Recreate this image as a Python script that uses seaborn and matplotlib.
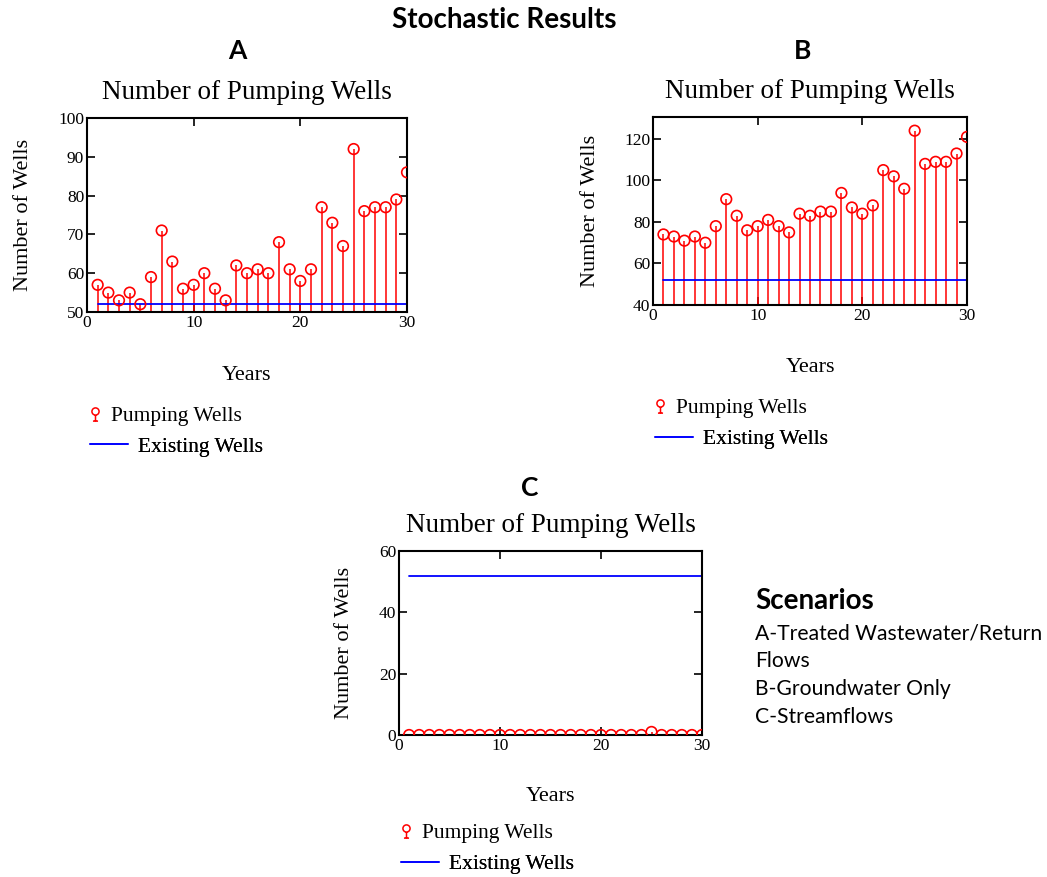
import matplotlib
matplotlib.use("Agg")
import matplotlib.pyplot as plt
from matplotlib.path import Path
from matplotlib.lines import Line2D
import numpy as np
import pandas as pd
import seaborn as sns

# ---- data -------------------------------------------------------------
years = list(range(1, 31))
pumping_a = [57, 55, 53, 55, 52, 59, 71, 63, 56, 57, 60, 56, 53, 62, 60,
             61, 60, 68, 61, 58, 61, 77, 73, 67, 92, 76, 77, 77, 79, 86]
pumping_b = [74, 73, 71, 73, 70, 78, 91, 83, 76, 78, 81, 78, 75, 84, 83,
             85, 85, 94, 87, 84, 88, 105, 102, 96, 124, 108, 109, 109, 113, 121]
pumping_c = [0, 0, 0, 0, 0, 0, 0, 0, 0, 0, 0, 0, 0, 0, 0,
             0, 0, 0, 0, 0, 0, 0, 0, 0, 1, 0, 0, 0, 0, 0]
existing_wells = 52

panel_letters = ["A", "B", "C"]
panel_title = "Number of Pumping Wells"
x_label = "Years"
y_label = "Number of Wells"
legend_labels = ["Pumping Wells", "Existing Wells"]
x_ticks = [0, 10, 20, 30]
y_ticks_a = [50, 60, 70, 80, 90, 100]
y_ticks_b = [40, 60, 80, 100, 120]
y_ticks_c = [0, 20, 40, 60]
scenario_heading = "Scenarios"
scenario_lines = ["A-Treated Wastewater/Return", "Flows",
                  "B-Groundwater Only", "C-Streamflows"]

# ---- style ------------------------------------------------------------
sns.set_style("ticks")
SERIF = ["Liberation Serif", "DejaVu Serif"]
SANS = ["Lato", "DejaVu Sans"]
plt.rcParams["font.family"] = SERIF
plt.rcParams.update({"text.color": "black", "axes.labelcolor": "black",
                     "xtick.color": "black", "ytick.color": "black",
                     "axes.edgecolor": "black"})
RED = "#ff0000"
BLUE = "#0000ff"
W, H = 1047, 877

fig = plt.figure(figsize=(W / 100, H / 100), dpi=100)


def px_rect(left, top, right, bottom):
    return [left / W, 1 - bottom / H, (right - left) / W, (bottom - top) / H]


# stem-with-circle glyph used in the legend
_glyph = Path.make_compound_path(
    Path.circle(center=(0, 0.32), radius=0.38),
    Path([(0, -0.06), (0, -0.7)], [Path.MOVETO, Path.LINETO]),
    Path([(-0.27, -0.7), (0.27, -0.7)], [Path.MOVETO, Path.LINETO]),
)
pump_handle = Line2D([], [], linestyle="none", marker=_glyph, markersize=9.5,
                     markerfacecolor="none", markeredgecolor=RED,
                     markeredgewidth=1.1)
exist_handle = Line2D([], [], color=BLUE, lw=1.2)


def draw_panel(rect, values, ylim, yticks, letter, letter_xy, ylabel_x,
               legend_left, legend_y):
    ax = fig.add_axes(rect)
    df = pd.DataFrame({"Year": years, "Wells": values})
    ex = pd.DataFrame({"Year": years, "Wells": [existing_wells] * len(years)})

    ax.vlines(df["Year"], ylim[0], df["Wells"], color=RED, lw=1.1, zorder=2)
    sns.lineplot(data=ex, x="Year", y="Wells", ax=ax, color=BLUE, lw=1.3,
                 zorder=2.5)
    sns.scatterplot(data=df, x="Year", y="Wells", ax=ax, marker="o", s=58,
                    facecolor="none", edgecolor=RED, linewidth=1.2, zorder=3,
                    legend=False)

    ax.set_xlim(0, 30)
    ax.set_ylim(*ylim)
    ax.set_xticks(x_ticks)
    ax.set_yticks(yticks)
    ax.tick_params(direction="in", top=True, right=True, length=6, width=1.2,
                   labelsize=12.5, pad=2, colors="black")
    for sp in ax.spines.values():
        sp.set_visible(True)
        sp.set_linewidth(1.5)
        sp.set_color("black")

    ax.set_title(panel_title, fontsize=19.5, pad=14)
    ax.set_xlabel(x_label, fontsize=16)
    ax.set_ylabel(y_label, fontsize=16)
    ax.xaxis.set_label_coords(0.5, -0.28)
    ax.yaxis.set_label_coords(ylabel_x, 0.5)

    # letter above each panel
    fig.text(letter_xy[0] / W, 1 - letter_xy[1] / H, letter, ha="center",
             va="center", fontsize=19, fontweight="bold", family=SANS)

    # two single-entry legends below the panel
    fs = 15.5
    em = fs * 100 / 72
    leg1 = ax.legend([pump_handle], [legend_labels[0]], loc="center left",
                     bbox_to_anchor=((legend_left - 4) / W, 1 - legend_y / H),
                     bbox_transform=fig.transFigure, frameon=False,
                     handlelength=18 / em, handletextpad=(21.5 - 14) / em,
                     borderpad=0, borderaxespad=0, prop={"family": SERIF, "size": fs})
    ax.add_artist(leg1)
    leg2 = ax.legend([exist_handle], [legend_labels[1]], loc="center left",
                     bbox_to_anchor=(legend_left / W, 1 - (legend_y + 31) / H),
                     bbox_transform=fig.transFigure, frameon=False,
                     handlelength=38 / em, handletextpad=10 / em,
                     borderpad=0, borderaxespad=0, prop={"family": SERIF, "size": fs})
    ax.add_artist(leg2)
    return ax


draw_panel(px_rect(87, 118, 407, 312), pumping_a, (50, 100), y_ticks_a,
           panel_letters[0], (237, 51), -0.17, 90, 416)
draw_panel(px_rect(653, 117, 967, 305), pumping_b, (40, 130.6), y_ticks_b,
           panel_letters[1], (803, 51), -0.17, 655, 408)
draw_panel(px_rect(399, 551, 702, 735), pumping_c, (0, 60), y_ticks_c,
           panel_letters[2], (530, 488), -0.15, 401, 833)

fig.text(504 / W, 1 - 20 / H, "Stochastic Results", ha="center", va="center",
         fontsize=20, fontweight="bold", family=SANS)

fig.text(755 / W, 1 - 601 / H, scenario_heading, ha="left", va="center",
         fontsize=20, fontweight="bold", family=SANS)
for i, line in enumerate(scenario_lines):
    fig.text(755 / W, 1 - (633 + 28 * i) / H, line, ha="left", va="center",
             fontsize=15.2, family=SANS)

fig.savefig("out.png", dpi=100)
